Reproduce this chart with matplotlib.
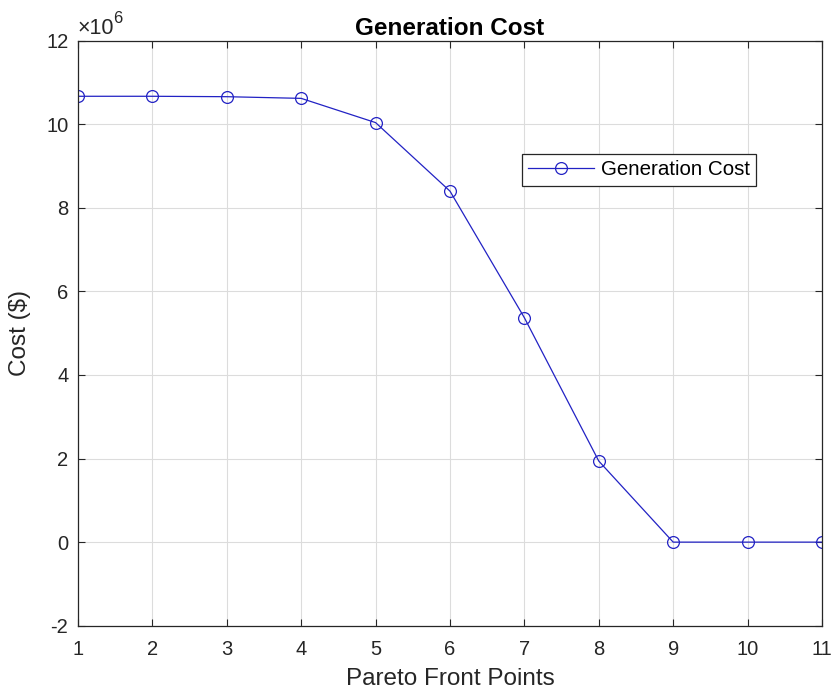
import matplotlib
matplotlib.use("Agg")
import matplotlib.pyplot as plt
from matplotlib.ticker import FuncFormatter, MultipleLocator

plt.rcParams['font.family'] = ['Liberation Sans', 'DejaVu Sans']

points = [1, 2, 3, 4, 5, 6, 7, 8, 9, 10, 11]
cost = [10.67e6, 10.67e6, 10.66e6, 10.62e6, 10.04e6, 8.40e6, 5.37e6, 1.94e6, 0.0, 0.0, 0.0]

fig = plt.figure(figsize=(8.35, 6.97), dpi=100)
ax = fig.add_axes([0.0934, 0.1023, 0.8910, 0.8393])

ax.plot(points, cost, color='#2222c4', linewidth=0.9, marker='o', markersize=8.5,
        markerfacecolor='none', markeredgecolor='#2222c4', markeredgewidth=0.9,
        label='Generation Cost')

ax.set_xlim(1, 11)
ax.set_ylim(-2e6, 12e6)
ax.xaxis.set_major_locator(MultipleLocator(1))
ax.yaxis.set_major_locator(MultipleLocator(2e6))
ax.yaxis.set_major_formatter(FuncFormatter(lambda v, p: f"{v/1e6:g}"))

ax.grid(True, color='#dcdcdc', linewidth=0.8)
ax.set_axisbelow(True)
ax.tick_params(direction='in', top=True, right=True, length=5, width=0.8,
               labelsize=14.5, colors='#262626', labelcolor='#262626')
ax.tick_params(axis='x', pad=10.5)
ax.tick_params(axis='y', pad=7)
for s in ax.spines.values():
    s.set_color('#262626')
    s.set_linewidth(0.9)

ax.set_title('Generation Cost', fontsize=17.5, fontweight='bold', color='#000000', pad=4)
ax.set_xlabel('Pareto Front Points', fontsize=17.5, color='#262626')
ax.xaxis.set_label_coords(0.5, -0.0723)
ax.set_ylabel('Cost (\\$)', fontsize=17.5, color='#262626', va='center')
ax.yaxis.set_label_coords(-0.078, 0.5)
ax.text(0.0, 1.0115, '\u00d710', transform=ax.transAxes, fontsize=15.5,
        color='#262626', ha='left', va='baseline', family=['DejaVu Sans'] if False else None)
ax.text(0.0475, 1.031, '6', transform=ax.transAxes, fontsize=12,
        color='#262626', ha='left', va='baseline')

leg = ax.legend(loc='upper left', bbox_to_anchor=(0.597, 0.806), borderaxespad=0,
                fancybox=False, edgecolor='#262626', fontsize=14.8, handlelength=3.2,
                borderpad=0.3, handletextpad=0.35, framealpha=1)
leg.get_frame().set_linewidth(0.9)

fig.savefig('out.png', dpi=100)
